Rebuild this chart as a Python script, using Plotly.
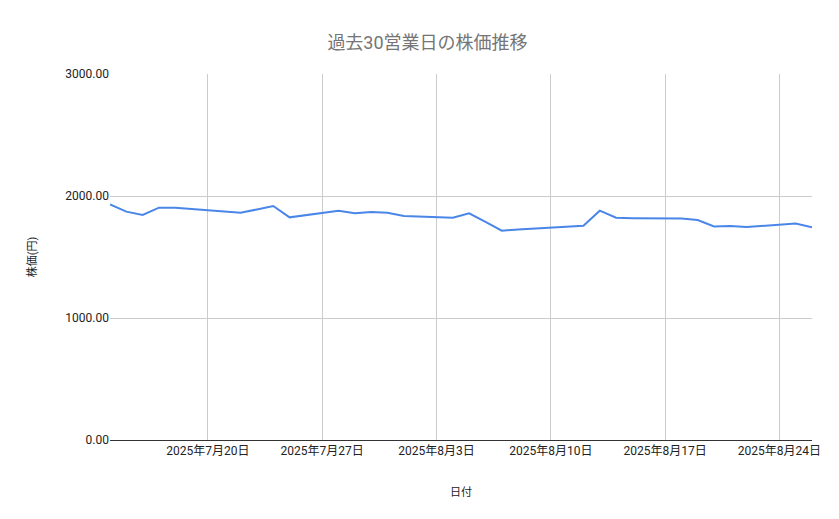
import plotly.graph_objects as go

dates = ["2025-07-14", "2025-07-15", "2025-07-16", "2025-07-17", "2025-07-18",
         "2025-07-22", "2025-07-23", "2025-07-24", "2025-07-25",
         "2025-07-28", "2025-07-29", "2025-07-30", "2025-07-31", "2025-08-01",
         "2025-08-04", "2025-08-05", "2025-08-06", "2025-08-07", "2025-08-08",
         "2025-08-12", "2025-08-13", "2025-08-14", "2025-08-15",
         "2025-08-18", "2025-08-19", "2025-08-20", "2025-08-21", "2025-08-22",
         "2025-08-25", "2025-08-26"]
prices = [1932, 1872, 1844, 1904, 1904,
          1863, 1890, 1918, 1825,
          1880, 1858, 1869, 1863, 1836,
          1822, 1858, 1787, 1716, 1725,
          1757, 1880, 1822, 1818,
          1815, 1803, 1751, 1755, 1746,
          1774, 1744]
tick_dates = ["2025-07-20", "2025-07-27", "2025-08-03", "2025-08-10", "2025-08-17", "2025-08-24"]
tick_text = ["2025年7月20日", "2025年7月27日", "2025年8月3日", "2025年8月10日", "2025年8月17日", "2025年8月24日"]

FONT = "Roboto, Noto Sans CJK JP, sans-serif"

fig = go.Figure()
fig.add_trace(go.Scatter(x=dates, y=prices, mode="lines",
                         line=dict(color="#4a86e8", width=2)))

fig.update_layout(
    width=839, height=519,
    paper_bgcolor="white", plot_bgcolor="white",
    font=dict(family=FONT, size=12, color="#222222"),
    title=dict(text="過去30営業日の株価推移", x=0.5, y=0.945, xanchor="center",
               font=dict(size=18, color="#757575", family=FONT)),
    margin=dict(l=102, r=35, t=66, b=87),
    showlegend=False,
    xaxis=dict(range=["2025-07-14", "2025-08-26"], tickvals=tick_dates, ticktext=tick_text,
               showgrid=True, gridcolor="#cccccc", showline=True, linecolor="#333333",
               ticks="", tickfont=dict(size=12, color="#222222"),
               title=dict(text="日付", font=dict(size=11, color="#222222"), standoff=30)),
    yaxis=dict(range=[0, 3000], tickvals=[0, 1000, 2000, 3000], tickformat=".2f",
               showgrid=True, gridcolor="#cccccc", zeroline=False, ticks="",
               tickfont=dict(size=12, color="#222222"),
               title=dict(text="株価(円)", font=dict(size=11, color="#222222"), standoff=26)),
)

fig.write_html("out.html")
